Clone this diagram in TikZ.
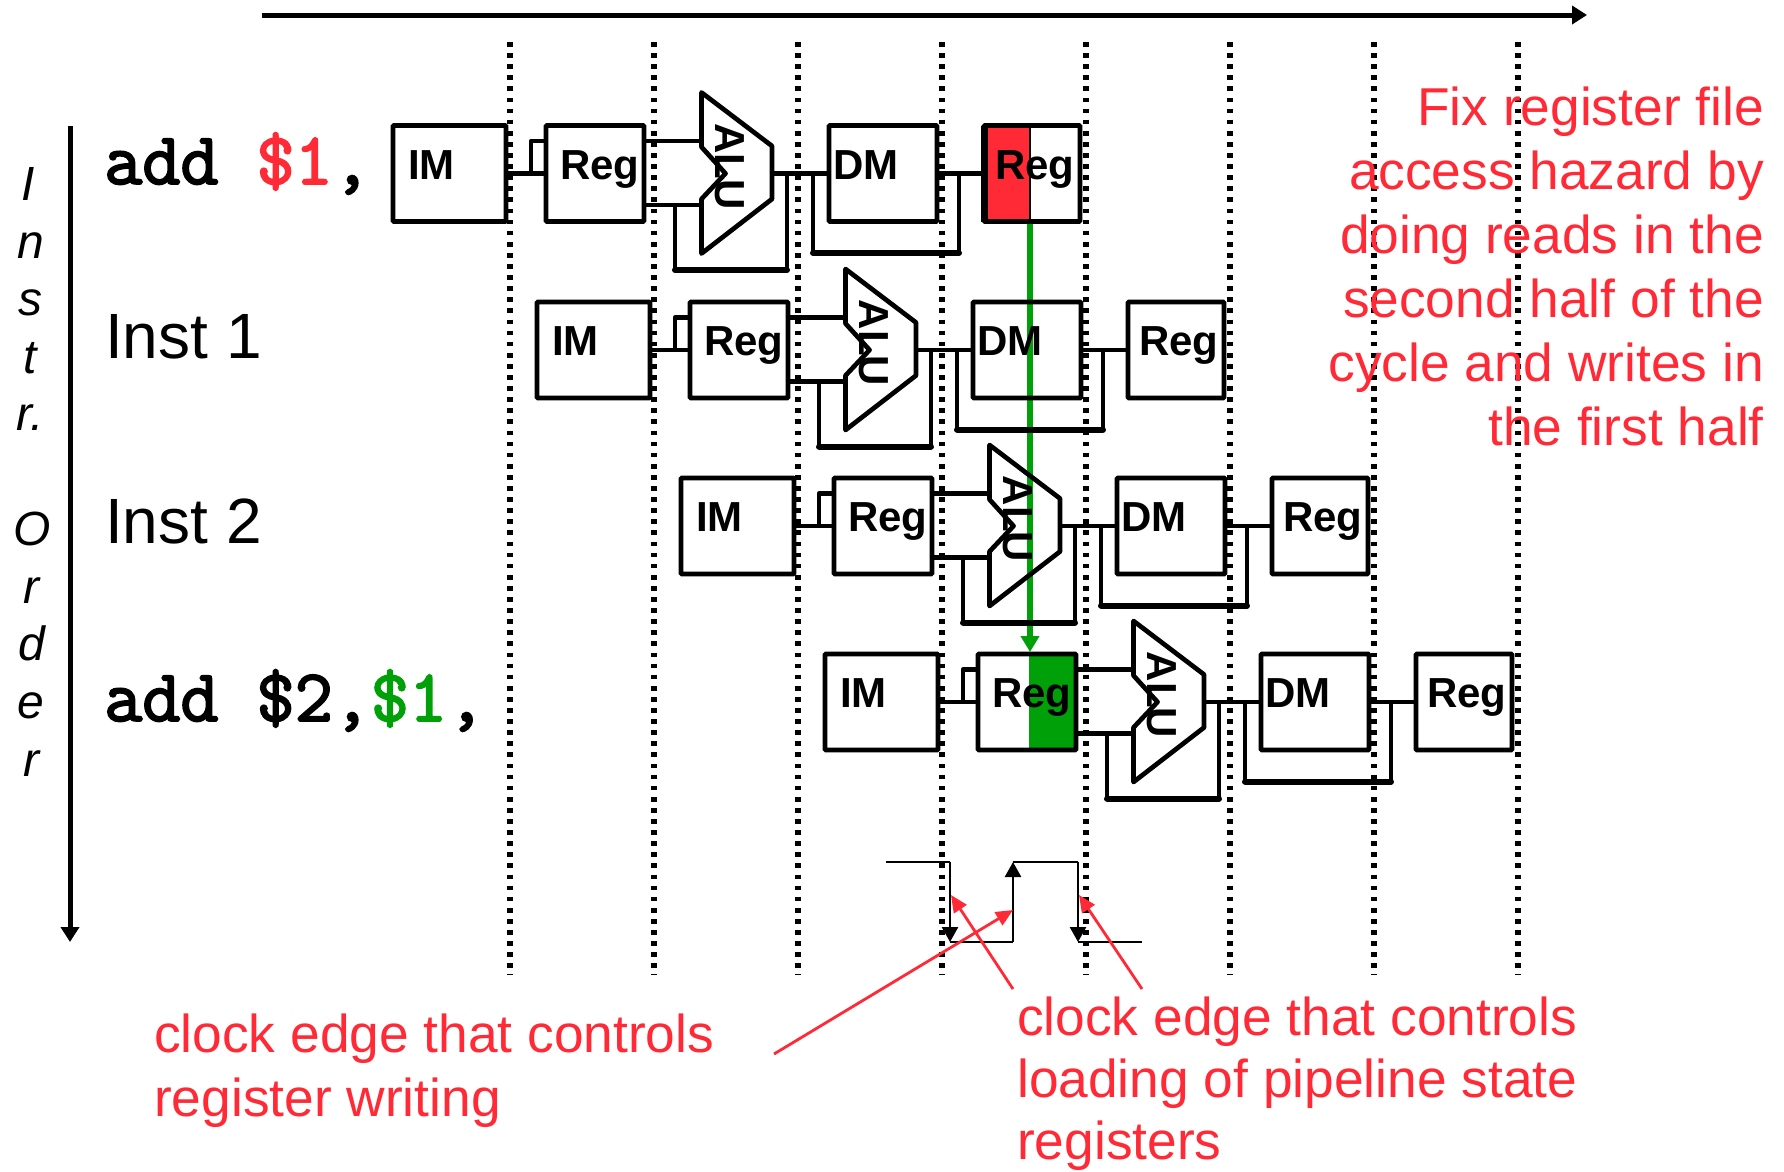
\documentclass[tikz,border=0pt]{standalone}
\usepackage{fontspec}
\setmainfont{Liberation Sans}
\newfontfamily\codefam{Latin Modern Mono}[FakeBold=2.6]
\usetikzlibrary{arrows.meta}
\definecolor{myred}{HTML}{FF2A36}
\definecolor{mygreen}{HTML}{00A008}
\tikzset{
  boxn/.style={draw=none,fill=white,inner sep=0,outer sep=0,minimum height=96pt},
  edge/.style={draw=black,line width=4.7pt,rounded corners=1pt},
  blk/.style={font=\fontsize{42}{46}\selectfont\bfseries,inner sep=0,anchor=base west},
  alulbl/.style={font=\fontsize{42}{46}\selectfont\bfseries,inner sep=0,anchor=base,rotate=-90},
  wire/.style={line width=4.7pt,line join=round},
  fbbot/.style={line width=6pt,line cap=round},
  grid/.style={line width=5.4pt,dash pattern=on 4.7pt off 6.4pt},
  axis/.style={line width=5pt,-{Triangle[length=15pt,width=18pt]}},
  clk/.style={line width=2.4pt,line join=round},
  clkarrow/.style={line width=2.6pt,-{Triangle[length=15pt,width=16pt]}},
  redarrow/.style={draw=myred,line width=2.8pt,-{Triangle[length=17pt,width=15pt]}},
  code/.style={font=\fontsize{74}{78}\selectfont\codefam,inner sep=0,anchor=base west},
  inst/.style={font=\fontsize{64}{68}\selectfont,inner sep=0,anchor=base west},
  note/.style={text=myred,font=\fontsize{53.3}{64}\selectfont,inner sep=0},
  vlet/.style={font=\fontsize{48}{52}\selectfont\itshape,inner sep=0,anchor=base},
}
% ALU outline path
\newcommand{\alupath}{(701.5,92.5) -- (772,146) -- (772,199) -- (701.5,253.5) -- (701.5,199) -- (725.5,173.5) -- (701.5,147) -- cycle}
% first pass: white bodies; #1 row name, #2 x shift, #3 y shift
\newcommand{\pipebody}[3]{%
\begin{scope}[shift={(#2,#3)}]
  \node[boxn,minimum width=113pt] (im#1) at (449.5,173.5) {};
  \node[boxn,minimum width=98pt] (rega#1) at (595,173.5) {};
  \node[boxn,minimum width=108pt] (dm#1) at (883,173.5) {};
  \node[boxn,minimum width=96pt] (regb#1) at (1032,173.5) {};
  \fill[white] \alupath;
\end{scope}}
% second pass: outlines, connectors, labels
\newcommand{\pipelines}[3]{%
\begin{scope}[shift={(#2,#3)}]
  \coordinate (alua#1) at (701.5,141);
  \coordinate (alub#1) at (701.5,205);
  \coordinate (aluo#1) at (772,173.5);
  \coordinate (fba#1) at (675,270);
  \coordinate (fbb#1) at (787,270);
  \coordinate (fbc#1) at (813,253);
  \coordinate (fbd#1) at (959,253);
  \coordinate (bra#1) at (531,141);
  \draw[wire] (im#1.east) -- (rega#1.west);
  \draw[wire] (bra#1 |- im#1) -- (bra#1) -- (bra#1 -| rega#1.west);
  \draw[wire] (alua#1 -| rega#1.east) -- (alua#1);
  \draw[wire] (alub#1 -| rega#1.east) -- (alub#1);
  \draw[wire] (aluo#1) -- (dm#1.west);
  \draw[wire] (dm#1.east) -- (regb#1.west);
  \draw[wire] (fba#1 |- alub#1) -- (fba#1) -- (fbb#1) -- (fbb#1 |- aluo#1);
  \draw[fbbot] (fba#1) -- (fbb#1);
  \draw[wire] (fbc#1 |- aluo#1) -- (fbc#1) -- (fbd#1) -- (fbd#1 |- aluo#1);
  \draw[fbbot] (fbc#1) -- (fbd#1);
  \draw[edge] (im#1.north west) rectangle (im#1.south east);
  \draw[edge] (rega#1.north west) rectangle (rega#1.south east);
  \draw[edge] (dm#1.north west) rectangle (dm#1.south east);
  \draw[edge] (regb#1.north west) rectangle (regb#1.south east);
  \draw[wire] \alupath;
  \node[blk] (imt#1) at (408,179) {IM};
  \node[blk] (regt#1) at (560,179) {Reg};
  \node[alulbl] (alut#1) at (715,166.5) {ALU};
  \node[blk] (dmt#1) at (833,179) {DM};
  \node[blk] (regu#1) at (995,179) {Reg};
\end{scope}}
\begin{document}
\begin{tikzpicture}[x=1pt,y=-1pt]
\useasboundingbox (0,0) rectangle (1784,1171);
% cycle boundaries
\foreach \i/\xx in {1/510,2/654,3/798,4/942,5/1086,6/1230,7/1374,8/1518}{
  \coordinate (gt\i) at (\xx,42);
  \coordinate (gb\i) at (\xx,975);
  \draw[grid] (gt\i) -- (gb\i);
}
% axes
\coordinate (axa) at (262,15); \coordinate (axb) at (1587,15);
\coordinate (aya) at (70,126); \coordinate (ayb) at (70,942);
\draw[axis] (axa) -- (axb);
\draw[axis] (aya) -- (ayb);
% white bodies
\pipebody{r}{0}{0}
\pipebody{s}{144}{176.5}
\pipebody{t}{288}{352.5}
\pipebody{u}{432}{528.5}
% half fills
\coordinate (divr) at (1030,222);
\fill[myred] (regbr.north west) rectangle (divr);
\fill[mygreen] (1028.5,654) rectangle (regau.south east);
% green forwarding arrow
\coordinate (gstart) at (1030,222);
\coordinate (gend) at (1030,652);
\draw[mygreen,line width=5.2pt,-{Triangle[length=16pt,width=18pt]}] (gstart) -- (gend);
% outlines, connectors, block labels
\pipelines{r}{0}{0}
\pipelines{s}{144}{176.5}
\pipelines{t}{288}{352.5}
\pipelines{u}{432}{528.5}
% emphasised edges of the written register
\draw[black,line width=7pt] (regbr.north west) -- (regbr.south west);
\draw[black,line width=1.5pt] (divr |- regbr.north) -- (divr);
% left labels
\node[code] (l1) at (104,184) {add \textcolor{myred}{\$1},};
\node[inst] (l2) at (105,358) {Inst 1};
\node[inst] (l3) at (105,543) {Inst 2};
\node[code] (l4) at (104,721) {add \$2,\textcolor{mygreen}{\$1},};
% vertical caption
\foreach \ch/\xx/\yy in {I/28/200,n/31/258,s/30/315,t/30/373,r./30/430,O/32/545,r/31/603,d/32/660,e/31/718,r/31/776}{
  \node[vlet] at (\xx,\yy) {\ch};
}
% notes
\node[note,align=right,anchor=base east] (n1) at (1764,445) {Fix register file\\access hazard by\\doing reads in the\\second half of the\\cycle and writes in\\the first half};
\node[note,align=left,anchor=base west] (n2) at (154,1116) {clock edge that controls\\register writing};
\node[note,align=left,anchor=base west,font=\fontsize{53.3}{62}\selectfont] (n3) at (1017,1159.5) {clock edge that controls\\loading of pipeline state\\registers};
% clock
\coordinate (c0) at (886,862); \coordinate (c1) at (950,862); \coordinate (c2) at (950,942);
\coordinate (c3) at (1013,942); \coordinate (c4) at (1013,862); \coordinate (c5) at (1078,862);
\coordinate (c6) at (1078,942); \coordinate (c7) at (1142,942);
\draw[clk] (c0) -- (c1); \draw[clk] (c2) -- (c3); \draw[clk] (c4) -- (c5); \draw[clk] (c6) -- (c7);
\draw[clkarrow] (c1) -- (c2);
\draw[clkarrow] (c3) -- (c4);
\draw[clkarrow] (c5) -- (c6);
% red pointers
\coordinate (ra) at (774,1054); \coordinate (rb) at (1013,910);
\coordinate (rc) at (1013,989); \coordinate (rd) at (951,895);
\coordinate (re) at (1142,989); \coordinate (rf) at (1079,895);
\draw[redarrow] (ra) -- (rb);
\draw[redarrow] (rc) -- (rd);
\draw[redarrow] (re) -- (rf);
\end{tikzpicture}
\end{document}
